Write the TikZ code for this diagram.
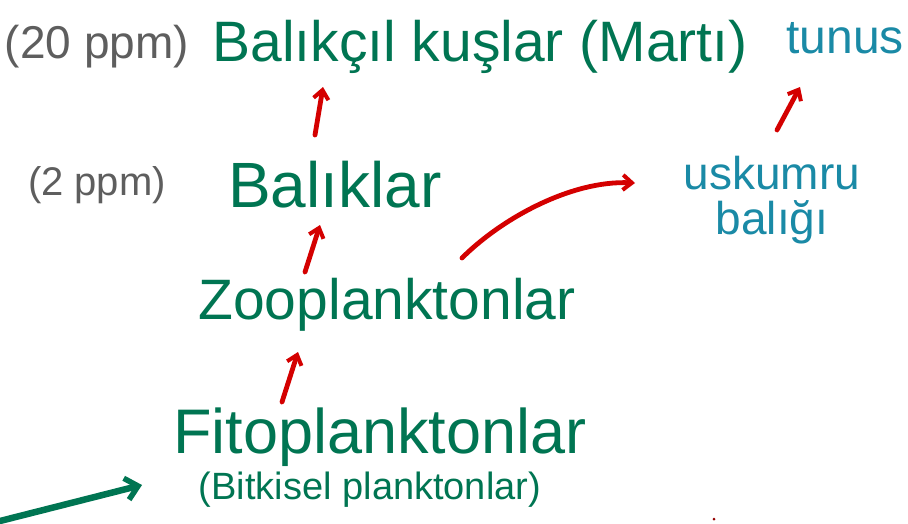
\documentclass[tikz,border=0pt]{standalone}
\usepackage{fontspec}
\setmainfont{Liberation Sans}
\usetikzlibrary{arrows.meta}
\definecolor{inkgreen}{HTML}{007552}
\definecolor{inkblue}{HTML}{1A8AA6}
\definecolor{inkgray}{HTML}{5E5E5E}
\definecolor{inkred}{HTML}{D40000}
\tikzset{
  lbl/.style={inner sep=0pt, anchor=center},
  greenlbl/.style={lbl, text=inkgreen},
  bluelbl/.style={lbl, text=inkblue},
  graylbl/.style={lbl, text=inkgray},
  redarrow/.style={draw=inkred, line width=4.8pt, line cap=round,
    -{Straight Barb[length=9pt,width=15pt,line width=4pt]}},
  greenarrow/.style={draw=inkgreen, line width=6.5pt, line cap=round,
    -{Straight Barb[length=12pt,width=22pt,line width=5.5pt]}},
}
\newcommand{\fs}[1]{\fontsize{#1}{1.15\dimexpr#1\relax}\selectfont}
\begin{document}
\begin{tikzpicture}[x=1pt,y=-1pt]
\useasboundingbox[fill=white] (0,0) rectangle (908,523);

% levels of the food chain
\node[greenlbl, font=\fs{57pt}] (bird) at (480,47) {Balıkçıl kuşlar (Martı)};
\node[graylbl, font=\fs{46pt}] (ppmtop) at (97,47) {(20 ppm)};
\node[bluelbl, font=\fs{48pt}] (tunus) at (845,38) {tunus};

\node[greenlbl, font=\fs{64pt}] (bal) at (335,185) {Balıklar};
\node[graylbl, font=\fs{40pt}] (ppmmid) at (97,185) {(2 ppm)};
\node[bluelbl, font=\fs{46pt}, align=center] (usk) at (772,200) {uskumru\\[-8pt]balığı};

\node[greenlbl, font=\fs{57pt}] (zoo) at (387,305) {Zooplanktonlar};

\node[greenlbl, font=\fs{63pt}] (fito) at (380,437) {Fitoplanktonlar};
\node[greenlbl, font=\fs{38pt}] (sub) at (370,490) {(Bitkisel planktonlar)};

% energy flow
\draw[redarrow] ([shift={(-20,-50)}]bal.center) -- ([shift={(-157,40)}]bird.center);
\draw[redarrow] ([shift={(-82,-33)}]zoo.center) -- ([shift={(-15,40)}]bal.center);
\draw[redarrow] ([shift={(-98,-35)}]fito.center) -- ([shift={(-89,47)}]zoo.center);
\draw[redarrow] ([shift={(5,-70)}]usk.center) -- ([shift={(-45,49)}]tunus.center);
\draw[redarrow] ([shift={(75,-47)}]zoo.center)
  .. controls ([shift={(115,-87)}]zoo.center) and ([shift={(-200,-20)}]usk.center)
  .. ([shift={(-137,-17)}]usk.center);

% sunlight entering from the lower left
\coordinate (sun) at (0,521);
\draw[greenarrow] (sun) -- ([shift={(-228,-5)}]sub.center);

% stray pen mark
\fill[inkred!70!black] (714,519) circle (1.5pt);
\end{tikzpicture}
\end{document}
